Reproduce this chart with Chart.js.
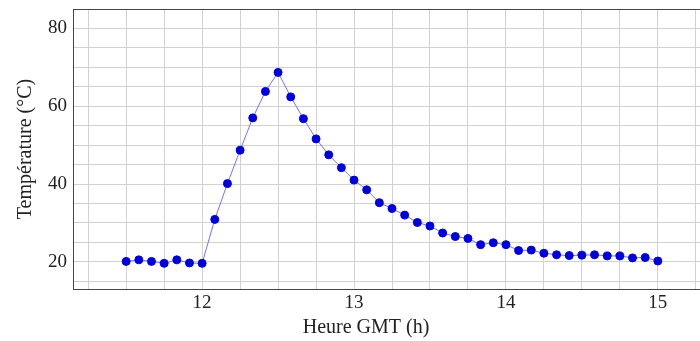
<!DOCTYPE html>
<html>
<head>
<meta charset="utf-8">
<script src="https://cdn.jsdelivr.net/npm/chart.js@4"></script>
<style>
  html, body { margin: 0; padding: 0; background: #fff; overflow: hidden; }
  #wrap { width: 720px; height: 341px; }
</style>
</head>
<body>
<div id="wrap"><canvas id="tempChart"></canvas></div>
<script>
// heure GMT (hh:mm) et température relevée
const times = [
  '11:30','11:35','11:40','11:45','11:50','11:55','12:00',
  '12:05','12:10','12:15','12:20','12:25','12:30','12:35',
  '12:40','12:45','12:50','12:55','13:00','13:05','13:10',
  '13:15','13:20','13:25','13:30','13:35','13:40','13:45',
  '13:50','13:55','14:00','14:05','14:10','14:15','14:20',
  '14:25','14:30','14:35','14:40','14:45','14:50','14:55','15:00'
];
const temps = [
  20.1, 20.5, 20.1, 19.6, 20.5, 19.7, 19.6,
  30.9, 40.1, 48.7, 57.0, 63.8, 68.7, 62.4,
  56.8, 51.6, 47.5, 44.2, 41.0, 38.5, 35.2,
  33.7, 32.0, 30.1, 29.2, 27.4, 26.5, 26.0,
  24.4, 24.9, 24.4, 22.9, 23.0, 22.2, 21.8,
  21.6, 21.7, 21.8, 21.5, 21.5, 21.0, 21.1, 20.2
];
const xLabelTicks = [12, 13, 14, 15];
const yLabelTicks = [20, 40, 60, 80];

const toHours = t => {
  const [h, m] = t.split(':').map(Number);
  return h + m / 60;
};
const points = times.map((t, i) => ({ x: toHours(t), y: temps[i] }));

const serif = "'Liberation Serif', 'DejaVu Serif', serif";
const isLabel = (v, list) => list.some(l => Math.abs(l - v) < 1e-6);

// cadre complet + titre de l'axe x
const frame = {
  id: 'frame',
  afterDraw(chart) {
    const { ctx, chartArea: a } = chart;
    ctx.save();
    ctx.strokeStyle = '#444';
    ctx.lineWidth = 1;
    ctx.strokeRect(a.left + 0.5, a.top + 0.5, a.right - a.left, a.bottom - a.top);
    ctx.fillStyle = '#222';
    ctx.font = '20px ' + serif;
    ctx.textAlign = 'center';
    ctx.textBaseline = 'middle';
    ctx.fillText('Heure GMT (h)', 366, 328);
    ctx.restore();
  }
};

const ctx = document.getElementById('tempChart').getContext('2d');
new Chart(ctx, {
  type: 'line',
  data: {
    datasets: [{
      data: points,
      borderColor: '#7373ff',
      borderWidth: 1,
      pointRadius: 4,
      pointBorderWidth: 1,
      pointBackgroundColor: '#0000dc',
      pointBorderColor: '#0000dc',
      tension: 0
    }]
  },
  options: {
    responsive: true,
    maintainAspectRatio: false,
    animation: false,
    layout: { padding: { top: 9, right: 9, left: 0, bottom: 0 } },
    plugins: { legend: { display: false }, tooltip: { enabled: false } },
    scales: {
      x: {
        type: 'linear',
        min: 11.15,
        max: 15.35,
        afterFit: s => { s.height = 52; s.paddingLeft = 0; s.paddingRight = 0; },
        border: { display: false },
        grid: { color: '#d2d2d2', lineWidth: 1, drawTicks: false },
        ticks: {
          stepSize: 0.25,
          includeBounds: false,
          autoSkip: false,
          maxRotation: 0,
          padding: 3,
          color: '#222',
          font: { family: serif, size: 19 },
          callback: v => isLabel(v, xLabelTicks) ? String(Math.round(v)) : ''
        }
      },
      y: {
        min: 13,
        max: 85,
        afterFit: s => { s.width = 73; s.paddingTop = 0; s.paddingBottom = 0; },
        border: { display: false },
        grid: { color: '#d2d2d2', lineWidth: 1, drawTicks: false },
        ticks: {
          stepSize: 5,
          includeBounds: false,
          autoSkip: false,
          padding: 6,
          color: '#222',
          font: { family: serif, size: 19 },
          callback: v => isLabel(v, yLabelTicks) ? String(Math.round(v)) : ''
        },
        title: {
          display: true,
          text: 'Température (°C)',
          color: '#222',
          font: { family: serif, size: 20 },
          padding: { top: 14, bottom: 0 }
        }
      }
    }
  },
  plugins: [frame]
});
</script>
</body>
</html>
